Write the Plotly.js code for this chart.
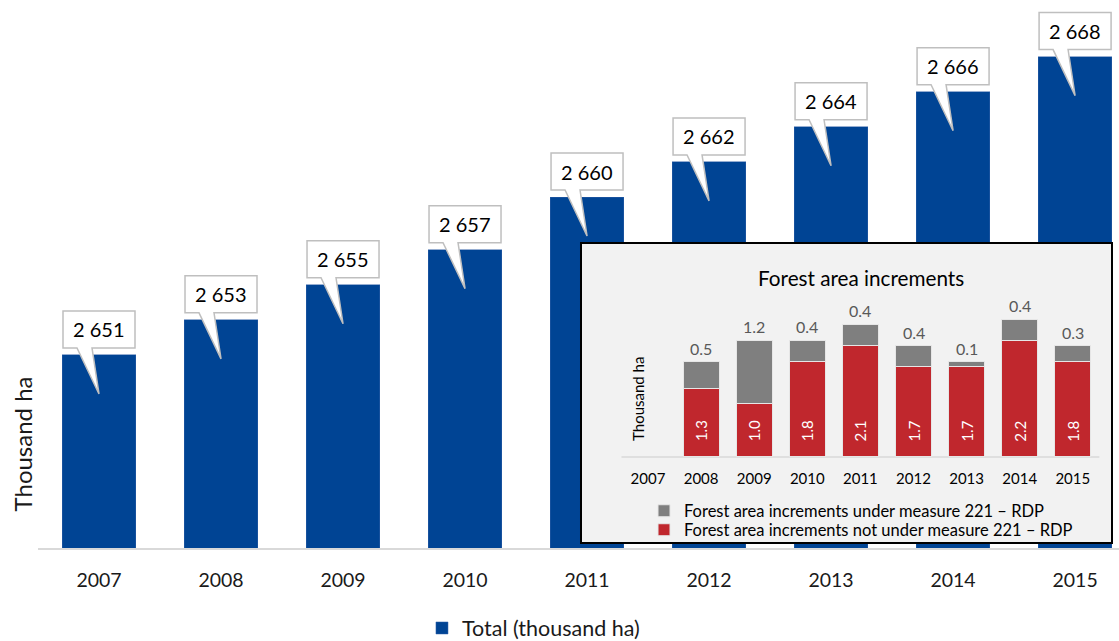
<!DOCTYPE html>
<html>
<head>
<meta charset="utf-8">
<script src="https://cdn.plot.ly/plotly-3.0.1.min.js"></script>
<style>html,body{margin:0;padding:0;background:#fff;}#chart{width:1119px;height:641px;}</style>
</head>
<body>
<div id="chart"></div>
<script>
// ---- data ----
var years = ['2007','2008','2009','2010','2011','2012','2013','2014','2015'];
var totalValues = [2651, 2653, 2655, 2657, 2660, 2662, 2664, 2666, 2668];
var notUnderMeasure = [null, 1.3, 1.0, 1.8, 2.1, 1.7, 1.7, 2.2, 1.8];
var underMeasure = [null, 0.5, 1.2, 0.4, 0.4, 0.4, 0.1, 0.4, 0.3];
var mainSeriesName = 'Total (thousand ha)';
var underName = 'Forest area increments under measure 221 – RDP';
var notUnderName = 'Forest area increments not under measure 221 – RDP';
var insetTitle = 'Forest area increments';
var yTitle = 'Thousand ha';

var FONT = 'Lato, "Open Sans", sans-serif';
var BLUE = '#004494', RED = '#c0272d', GREY = '#7f7f7f';

function fmtThousands(v){ return String(v).replace(/\B(?=(\d{3})+(?!\d))/g, ' '); }

var X2_RANGE = [-1.262, 8.738];
var Y2_RANGE = [-1.6226, 4.0377];

var traces = [
  {type:'bar', x:years, y:totalValues, name:mainSeriesName, width:0.6,
   marker:{color:BLUE, line:{color:'#2d5ea6', width:0.5}}, xaxis:'x', yaxis:'y',
   legend:'legend', hoverinfo:'skip'},
  {type:'bar', x:years, y:notUnderMeasure, name:notUnderName, width:0.68,
   marker:{color:RED, line:{color:'#e6e6e6', width:1}}, xaxis:'x2', yaxis:'y2',
   legend:'legend3', hoverinfo:'skip'},
  {type:'bar', x:years, y:underMeasure, name:underName, width:0.68,
   marker:{color:GREY, line:{color:'#e6e6e6', width:1}}, xaxis:'x2', yaxis:'y2',
   legend:'legend2', hoverinfo:'skip'}
];

var shapes = [];
var annotations = [];

// callouts for main bars (anchored at category index / bar value)
years.forEach(function(yr, i){
  shapes.push({type:'path', xref:'x', yref:'y', xsizemode:'pixel', ysizemode:'pixel',
    xanchor:i, yanchor:totalValues[i], layer:'above',
    path:'M-36,7 L-36,44 L36,44 L36,7 L-7,7 L0,-39 L-22,7 Z',
    fillcolor:'#ffffff', line:{color:'#bfbfbf', width:1.5}});
  annotations.push({xref:'x', yref:'y', x:i, y:totalValues[i], yshift:25.5,
    xanchor:'center', yanchor:'middle', showarrow:false, text:fmtThousands(totalValues[i]),
    font:{family:FONT, size:20, color:'#000'}});
});

// inset background (in the inset subplot, so above main bars) and frame
shapes.push({type:'rect', xref:'x2', yref:'y2', x0:X2_RANGE[0], x1:X2_RANGE[1], y0:Y2_RANGE[0], y1:Y2_RANGE[1],
  layer:'below', fillcolor:'#f2f2f2', line:{width:0}});
shapes.push({type:'rect', xref:'paper', yref:'paper', x0:0.50231, x1:0.99352, y0:0.00912, y1:0.5566,
  layer:'above', fillcolor:'rgba(0,0,0,0)', line:{color:'#000', width:2}});
// inset baseline
shapes.push({type:'line', xref:'x2', yref:'y2', x0:-0.5, x1:8.5, y0:0, y1:0,
  layer:'below', line:{color:'#d9d9d9', width:1.5}});

// inset labels
years.forEach(function(yr, i){
  if(notUnderMeasure[i] != null){
    annotations.push({xref:'x2', yref:'y2', x:i, y:0, yshift:26, textangle:-90,
      xanchor:'center', yanchor:'middle', showarrow:false, text:notUnderMeasure[i].toFixed(1),
      font:{family:FONT, size:15, color:'#ffffff'}});
    annotations.push({xref:'x2', yref:'y2', x:i, y:notUnderMeasure[i]+underMeasure[i],
      xanchor:'center', yanchor:'bottom', yshift:2, showarrow:false, text:underMeasure[i].toFixed(1),
      font:{family:FONT, size:16, color:'#595959'}});
  }
});
annotations.push({xref:'paper', yref:'paper', x:0.7613, y:0.4934, xanchor:'center', yanchor:'middle',
  showarrow:false, text:insetTitle, font:{family:FONT, size:20.7, color:'#000'}});
annotations.push({xref:'paper', yref:'paper', x:0.555, y:0.2719, xanchor:'center', yanchor:'middle',
  showarrow:false, textangle:-90, text:yTitle, font:{family:FONT, size:15, color:'#000'}});
annotations.push({xref:'paper', yref:'paper', x:-0.0148, y:0.1889, xanchor:'center', yanchor:'middle',
  showarrow:false, textangle:-90, text:yTitle, font:{family:FONT, size:24, color:'#1a1a1a'}});

var layout = {
  width:1119, height:641,
  margin:{l:38, r:0, t:0, b:93, pad:0, autoexpand:false},
  paper_bgcolor:'#ffffff', plot_bgcolor:'rgba(0,0,0,0)',
  barmode:'stack',
  font:{family:FONT, color:'#1a1a1a'},
  xaxis:{domain:[0,1], type:'category', categoryorder:'array', categoryarray:years,
    range:[-0.5, 8.36], showline:true, linecolor:'#d9d9d9', linewidth:1.5,
    showgrid:false, ticks:'', ticklabelstandoff:14, tickfont:{family:FONT, size:19.5, color:'#1a1a1a'},
    fixedrange:true},
  yaxis:{domain:[0,1], range:[2640, 2671.225], showgrid:false, zeroline:false,
    showticklabels:false, showline:false, ticks:'', fixedrange:true},
  xaxis2:{domain:[0.50231, 0.99352], anchor:'free', position:0.16606, type:'category',
    categoryorder:'array', categoryarray:years, range:X2_RANGE,
    showline:false, showgrid:false, zeroline:false, ticks:'', ticklabelstandoff:11,
    tickfont:{family:FONT, size:15, color:'#000'}, fixedrange:true},
  yaxis2:{domain:[0.00912, 0.5566], anchor:'x2', range:Y2_RANGE,
    showgrid:false, zeroline:false, showticklabels:false, showline:false, ticks:'', fixedrange:true},
  legend:{orientation:'h', x:0.3552, xanchor:'left', y:-0.146, yanchor:'middle',
    bgcolor:'rgba(0,0,0,0)', font:{family:FONT, size:21.5, color:'#1a1a1a'}},
  legend2:{orientation:'v', x:0.5606, xanchor:'left', y:0.0675, yanchor:'middle',
    bgcolor:'rgba(0,0,0,0)', font:{family:FONT, size:16.5, color:'#000'}},
  legend3:{orientation:'v', x:0.5606, xanchor:'left', y:0.03285, yanchor:'middle',
    bgcolor:'rgba(0,0,0,0)', font:{family:FONT, size:16.5, color:'#000'}},
  shapes:shapes,
  annotations:annotations,
  showlegend:true,
  hovermode:false
};

Plotly.newPlot('chart', traces, layout, {displayModeBar:false, staticPlot:true});
</script>
</body>
</html>
